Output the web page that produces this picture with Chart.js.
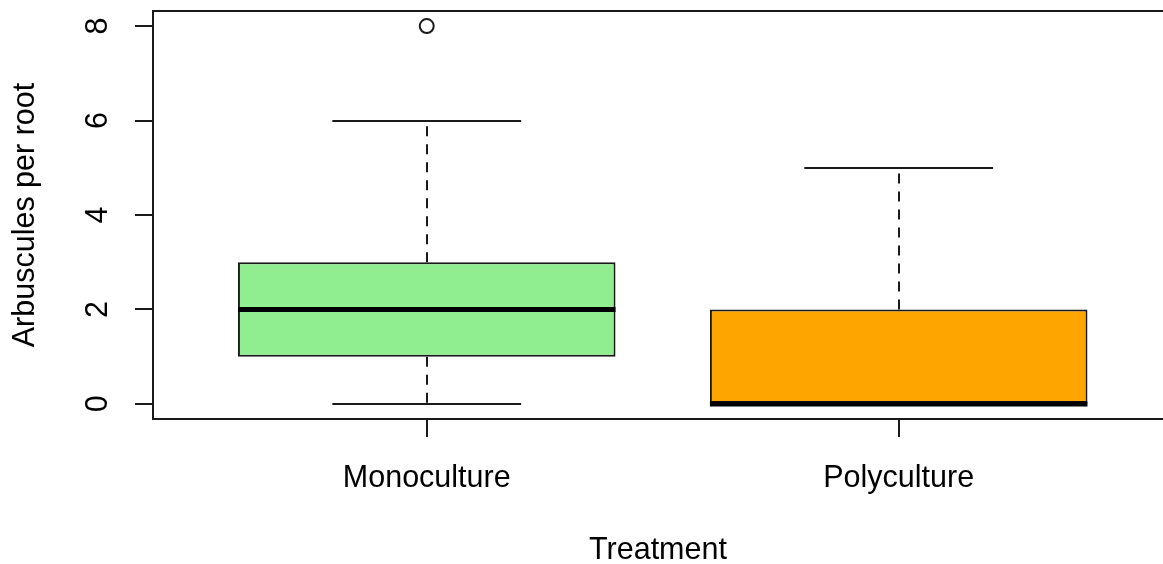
<!DOCTYPE html>
<html>
<head>
<meta charset="utf-8">
<title>Arbuscules per root by treatment</title>
<script src="https://cdn.jsdelivr.net/npm/chart.js@4.4.1/dist/chart.umd.min.js"></script>
<style>
  html, body { margin: 0; padding: 0; background: #ffffff; overflow: hidden; }
  canvas { display: block; }
</style>
</head>
<body>
<canvas id="chart" width="1163" height="564"></canvas>
<script>
// Five-number summaries per treatment group
const categories = ['Monoculture', 'Polyculture'];
const lowerWhisker = [0, 0];
const q1 = [1, 0];
const median = [2, 0];
const q3 = [3, 2];
const upperWhisker = [6, 5];
const outliers = [[8], []];
const yTicks = [0, 2, 4, 6, 8];
const boxColors = ['#90EE90', '#FFA500'];

const FONT = 'Liberation Sans, Arial, Helvetica, sans-serif';
const INK = '#000000';
const LINE = '#1a1a1a';

// Group positions 1..n on a linear axis, R-style range (0.5..n+0.5 plus 4%);
// the visible window stops at the canvas edge, a little short of the full range
const positions = categories.map((_, i) => i + 1);
const xMin = 0.5 - 0.04 * categories.length;
const xMaxFull = categories.length + 0.5 + 0.04 * categories.length;
const xMaxVisible = 2.56;
const yMin = 0 - 0.04 * 8;
const yMax = 8 + 0.04 * 8;

const boxData = positions.map((p, i) => ({ x: p, y: [q1[i], q3[i]] }));
const outlierData = [];
outliers.forEach((arr, i) => arr.forEach(v => outlierData.push({ x: positions[i], y: v })));

// Whiskers, caps, medians and the plot frame
const boxplotDecor = {
  id: 'boxplotDecor',
  afterDatasetsDraw(chart) {
    const { ctx, scales: { x, y }, chartArea } = chart;
    ctx.save();
    positions.forEach((p, i) => {
      const cx = Math.round(x.getPixelForValue(p));
      const capL = x.getPixelForValue(p - 0.2);
      const capR = x.getPixelForValue(p + 0.2);
      const boxL = x.getPixelForValue(p - 0.4);
      const boxR = x.getPixelForValue(p + 0.4);

      // dashed whiskers
      ctx.strokeStyle = LINE;
      ctx.lineWidth = 2;
      ctx.setLineDash([10, 8]);
      ctx.beginPath();
      ctx.moveTo(cx, y.getPixelForValue(q3[i]));
      ctx.lineTo(cx, y.getPixelForValue(upperWhisker[i]));
      ctx.moveTo(cx, y.getPixelForValue(q1[i]));
      ctx.lineTo(cx, y.getPixelForValue(lowerWhisker[i]));
      ctx.stroke();

      // whisker caps
      ctx.setLineDash([]);
      ctx.lineWidth = 2;
      ctx.beginPath();
      [upperWhisker[i], lowerWhisker[i]].forEach(v => {
        const py = Math.round(y.getPixelForValue(v));
        ctx.moveTo(capL, py);
        ctx.lineTo(capR, py);
      });
      ctx.stroke();

      // median
      ctx.strokeStyle = '#000000';
      ctx.lineWidth = 5;
      ctx.beginPath();
      const my = y.getPixelForValue(median[i]);
      ctx.moveTo(boxL, my);
      ctx.lineTo(boxR, my);
      ctx.stroke();
    });

    // plot frame; its right edge lies just past the canvas
    ctx.strokeStyle = LINE;
    ctx.lineWidth = 2;
    const right = x.getPixelForValue(xMaxFull);
    ctx.strokeRect(chartArea.left, chartArea.top, right - chartArea.left, chartArea.bottom - chartArea.top);
    ctx.restore();
  }
};

new Chart(document.getElementById('chart'), {
  type: 'bar',
  data: {
    datasets: [
      {
        label: 'Box',
        data: boxData,
        backgroundColor: boxColors,
        borderColor: LINE,
        borderWidth: 2,
        borderSkipped: false,
        categoryPercentage: 1.0,
        barPercentage: 0.8,
        order: 2
      },
      {
        type: 'scatter',
        label: 'Outliers',
        data: outlierData,
        pointStyle: 'circle',
        pointRadius: 7,
        pointHoverRadius: 7,
        borderWidth: 2,
        borderColor: LINE,
        backgroundColor: 'rgba(0,0,0,0)',
        order: 1
      }
    ]
  },
  options: {
    responsive: false,
    animation: false,
    devicePixelRatio: 1,
    layout: { autoPadding: false, padding: { top: 11, right: 0, left: 0, bottom: 0 } },
    plugins: {
      legend: { display: false },
      tooltip: { enabled: false }
    },
    scales: {
      x: {
        type: 'linear',
        offset: false,
        min: xMin,
        max: xMaxVisible,
        afterBuildTicks(scale) {
          scale.ticks = positions.map(v => ({ value: v }));
        },
        afterFit(scale) {
          scale.height = 145;
          scale.paddingLeft = 0;
          scale.paddingRight = 0;
        },
        border: { display: false },
        grid: {
          offset: false,
          drawOnChartArea: false,
          drawTicks: true,
          tickLength: 18,
          color: LINE,
          lineWidth: 2
        },
        ticks: {
          autoSkip: false,
          maxRotation: 0,
          minRotation: 0,
          padding: 23,
          color: INK,
          font: { family: FONT, size: 30.5 },
          callback: v => categories[v - 1]
        },
        title: {
          display: true,
          text: 'Treatment',
          color: INK,
          font: { family: FONT, size: 30.5, lineHeight: 0.87 },
          padding: { top: 0, bottom: 0 }
        }
      },
      y: {
        type: 'linear',
        min: yMin,
        max: yMax,
        afterBuildTicks(scale) {
          scale.ticks = yTicks.map(v => ({ value: v }));
        },
        afterFit(scale) {
          scale.width = 153;
          scale.paddingTop = 0;
          scale.paddingBottom = 0;
        },
        border: { display: false },
        grid: {
          drawOnChartArea: false,
          drawTicks: true,
          tickLength: 18,
          color: LINE,
          lineWidth: 2
        },
        ticks: {
          minRotation: 90,
          maxRotation: 90,
          crossAlign: 'center',
          padding: 28,
          color: INK,
          font: { family: FONT, size: 30.5 },
          callback: v => String(v)
        },
        title: {
          display: true,
          text: 'Arbuscules per root',
          color: INK,
          font: { family: FONT, size: 30.5, lineHeight: 1 },
          padding: { top: 10, bottom: 0 }
        }
      }
    }
  },
  plugins: [boxplotDecor]
});
</script>
</body>
</html>
